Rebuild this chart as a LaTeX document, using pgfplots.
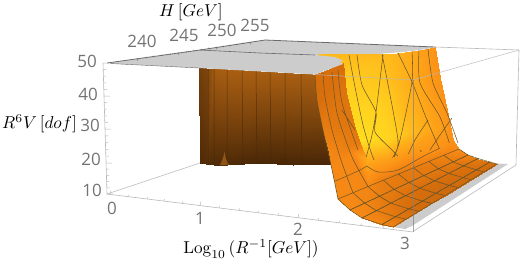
\documentclass[border=0pt]{standalone}
\usepackage{fontspec}
\newfontfamily\tickfont{Open Sans}
\usepackage{pgfplots}
\pgfplotsset{compat=1.18}
\definecolor{capg}{gray}{0.8}
\definecolor{boxl}{gray}{0.72}
\definecolor{capd}{gray}{0.42}
\definecolor{meshl}{RGB}{108,86,40}
\definecolor{wallm}{RGB}{62,38,14}
\definecolor{tick}{gray}{0.45}
\newcommand{\ticklab}[1]{{\tickfont\fontsize{17}{17}\selectfont\color{tick}#1}}
\begin{document}
\begin{tikzpicture}
\begin{axis}[
  scale only axis, width=520pt, height=263pt,
  xmin=0, xmax=520, ymin=0, ymax=263, y dir=reverse,
  hide axis, clip=false, unbounded coords=jump,
  colormap={fire}{rgb255(0cm)=(68,36,6); rgb255(1cm)=(120,66,12); rgb255(2cm)=(170,95,18);
    rgb255(3cm)=(215,110,12); rgb255(4cm)=(250,140,22); rgb255(5cm)=(255,170,25);
    rgb255(6cm)=(255,200,30); rgb255(7cm)=(255,222,32)},
  point meta min=0, point meta max=7,
]
\path (axis cs:0,0) -- (axis cs:520,263);
% box, back edges
\addplot[boxl, line width=0.6pt] coordinates {(435,47) (519,50) (516,165) (413,231.5)};
\addplot[boxl, line width=0.6pt] coordinates {(107,194) (200,163)};
% back part of the cap
\addplot[fill=capg, draw=none] coordinates {(108,63) (200,50) (265,40) (435,47) (427,49) (403,52) (377,54) (350,56) (327,56) (200,60)} -- cycle;
% brown wall
\addplot[surf, shader=interp, mesh/rows=2, mesh/cols=7, point meta=explicit] table[x index=0, y index=1, meta index=2] {
199 68 0.9
206 68.4 1.1
214 68.8 1.9
227 69.4 2.0
260 71.2 2.0
293 72.9 2.0
330 75 2.0
200 163 0.2
206 164 0.3
214 164.5 0.2
227 165 0.2
260 163 0.1
293 165 0.1
330 164 0.1
};
\addplot[fill={rgb,255:red,205;green,125;blue,35}, draw=none, opacity=0.5] coordinates {(220,165) (223,158) (224.5,152) (226,159) (229,165)} -- cycle;
\addplot[wallm, line width=0.5pt, opacity=0.7] table {
208 68.5
208 164
nan nan
214 69
214 164
nan nan
227 69.4
227 165
nan nan
242 70.2
243 164
nan nan
256 71
257 163
nan nan
270 71.7
271 163
nan nan
285 72.5
285 164
nan nan
301 73.3
302 165
};
% yellow back wall
\addplot[surf, shader=interp, mesh/rows=5, mesh/cols=6, point meta=explicit] table[x index=0, y index=1, meta index=2] {
318 54 5.5
388 54 5.5
405 52 5.1
420 50 4.7
430 48 4.4
435 47 4.2
342 80 6.2
380 81 5.9
403 81 5.3
420 80 4.8
432 80 4.4
439.5 78 4.2
347 110 6.7
382 112 6.4
405 112 5.5
425 112 4.9
438 112 4.5
447 110 4.2
358 140 7.0
390 137 6.5
410 133 5.6
430 130 4.9
443 130 4.5
451 130 4.2
367 160 5.0
388 158 4.7
408 154 4.4
428 150 4.3
446 145 4.2
453 140 4.2
};
\addplot[meshl, line width=0.55pt, smooth, tension=0.4] table {
349 55
355 87
363 125
372 155
383.4 180.25
nan nan
357 55
362 85
376 112
375 132
392 150
400 158
413.6 167.75
nan nan
383 55
376 112
372 135
366 158
nan nan
382 54
398 140
392 160
398.5 174
nan nan
398 53
412 82
427 120
440 150
443.9 155.25
nan nan
412 51
412 82
400 140
393 160
nan nan
419 50
420 83
440 117
450 145
nan nan
428 49
433 83
447 113
458 143
nan nan
420 150
428.75 161.5
nan nan
452 118
440 135
430 150
nan nan
428 120
415 140
408 155
};
% grey strip of the floor
\addplot[fill=capg, draw=none] coordinates {(393,227) (405,229) (412,226) (508,164) (497,163.5)} -- cycle;
% floor, from the foot of the wall
\addplot[surf, shader=interp, mesh/rows=2, mesh/cols=9, point meta=explicit] table[x index=0, y index=1, meta index=2] {
331 165 3.9
341 160 3.9
352 152 3.9
367 160 5.0
388 158 4.7
408 154 4.4
428 150 4.3
446 145 4.2
453 140 4.2
338 199 3.9
353 192.75 3.9
368 186.5 3.8
383.4 180.25 3.5
398.5 174 3.4
413.6 167.75 3.4
428.75 161.5 3.5
443.9 155.25 3.7
459 149 4.0
};
% floor
\addplot[surf, shader=faceted interp, faceted color=meshl, line width=0.5pt, mesh/rows=5, mesh/cols=9, point meta=explicit] table[x index=0, y index=1, meta index=2] {
338 199 3.9
353 192.75 3.9
368 186.5 3.8
383.4 180.25 3.5
398.5 174 3.4
413.6 167.75 3.4
428.75 161.5 3.5
443.9 155.25 3.7
459 149 4.0
350 210 3.9
364.75 203.1 3.8
379.5 196.25 3.5
394.25 189.4 3.4
409 182.5 3.3
423.75 175.6 3.3
438.5 168.75 3.3
453.25 161.9 3.4
468 155 3.7
362 218 3.9
376.5 210.6 3.6
391 203.1 3.3
405.5 195.7 3.1
420 188.25 3.0
434.5 180.8 3.0
449 173.4 3.1
463.5 165.9 3.1
478 158.5 3.4
382 224.5 3.8
395.5 216.7 3.3
409 208.9 3.0
422.5 201.1 2.9
436 193.25 2.8
449.5 185.4 2.8
463 177.6 2.9
476.5 169.8 2.9
490 162 3.0
393 227 3.7
406 219.1 3.2
419 211.25 2.9
432 203.4 2.8
445 195.5 2.8
458 187.6 2.8
471 179.75 2.8
484 171.9 2.8
497 164 2.9
};
\addplot[meshl, line width=0.5pt, smooth, tension=0.5] table {
367 166
378 172
398 170
422 157
440 148
nan nan
335 181
347 176
360 170
367 166
};
% fold
\addplot[surf, shader=interp, mesh/rows=5, mesh/cols=4, point meta=explicit] table[x index=0, y index=1, meta index=2] {
315 74 3.0
324 71 3.0
333 67 3.0
343 63 3.0
317 100 3.0
327 98 3.1
337 96 3.2
346 92 3.2
323 130 3.5
333 128 3.4
344 125 3.3
354 125 3.3
329 152 3.8
339 150 3.7
350 146 3.5
360 143 3.4
331 165 3.9
341 160 3.9
352 152 3.9
367 160 5.0
};
\addplot[meshl, line width=0.55pt, smooth, tension=0.4] table {
323 73
325 97
332 130
342 163
353 192.75
nan nan
332 72
337 113
352 157
368 186.5
nan nan
338 70
342 103
358 150
nan nan
342 110
355 130
nan nan
315 74
317 100
323 130
331 165
338 199
};
% front part of the cap
\addplot[fill=capg, draw=none] coordinates {(110,63.5) (199,68) (315,74.5) (343,64) (340,62) (343,60.5) (335,57) (315,55) (260,53) (200,50)} -- cycle;
\addplot[capd, line width=0.8pt] coordinates {(107,63) (200,50) (265,40) (435,47)};
\addplot[capd, line width=0.6pt] coordinates {(200,50) (260,53) (315,55)};
\addplot[capd, line width=0.4pt] coordinates {(110,63.5) (199,68)};
% box, front edges
\addplot[boxl, line width=0.6pt] coordinates {(103,63) (107,194) (413,232)};
\addplot[boxl, line width=0.6pt, opacity=0.8] coordinates {(315,74.5) (413,80) (519,50)};
\addplot[gray, line width=0.5pt, opacity=0.7] coordinates {(413,80) (413,232)};
% tick marks
\addplot[boxl, line width=0.5pt] table {
110 194.4
111 190.4
nan nan
200 205.5
201 201.5
nan nan
298 217.7
299 213.7
nan nan
405 229
406 225
nan nan
128 196.6
128.5 194.6
nan nan
147 199
147.5 197
nan nan
164 201.1
164.5 199.1
nan nan
182 203.3
182.5 201.3
nan nan
219 207.9
219.5 205.9
nan nan
239 210.4
239.5 208.4
nan nan
258 212.7
258.5 210.7
nan nan
278 215.2
278.5 213.2
nan nan
318 220.2
318.5 218.2
nan nan
339 222.8
339.5 220.8
nan nan
361 225.5
361.5 223.5
nan nan
383 228.2
383.5 226.2
nan nan
103 63
109 63
nan nan
104 96
110 96
nan nan
105 129
111 129
nan nan
106 163
112 163
nan nan
107 194
113 194
nan nan
103.2 69.6
106 69.6
nan nan
103.4 76.2
106 76.2
nan nan
103.6 82.8
106 82.8
nan nan
103.8 89.4
107 89.4
nan nan
104.2 102.6
107 102.6
nan nan
104.4 109.2
107 109.2
nan nan
104.6 115.8
107 115.8
nan nan
104.8 122.4
108 122.4
nan nan
105.2 135.8
108 135.8
nan nan
105.4 142.6
108 142.6
nan nan
105.6 149.4
108 149.4
nan nan
105.8 156.2
109 156.2
nan nan
106.2 169.2
109 169.2
nan nan
106.4 175.4
109 175.4
nan nan
106.6 181.6
109 181.6
nan nan
106.8 187.8
110 187.8
};
\addplot[capd, line width=0.4pt] table {
137 58
138 61
nan nan
178 52.1
179 55
nan nan
216 46.6
217 49.5
nan nan
250 41.7
251 44.5
nan nan
145.5 56.9
146 58.5
nan nan
153.5 55.7
154 57.3
nan nan
162 54.4
162.5 56
nan nan
170 53.3
170.5 54.9
nan nan
186 50.9
186.5 52.5
nan nan
193.5 49.8
194 51.4
nan nan
201 48.7
201.5 50.3
nan nan
208.5 47.6
209 49.2
nan nan
223 45.6
223.5 47.2
nan nan
230 44.6
230.5 46.2
nan nan
237 43.6
237.5 45.2
nan nan
243.5 42.6
244 44.2
};
% texts
\node[inner sep=0pt] at (axis cs:87,61) {\ticklab{50}};
\node[inner sep=0pt] at (axis cs:88,94) {\ticklab{40}};
\node[inner sep=0pt] at (axis cs:90,125) {\ticklab{30}};
\node[inner sep=0pt] at (axis cs:91,159) {\ticklab{20}};
\node[inner sep=0pt] at (axis cs:92,190) {\ticklab{10}};
\node[inner sep=0pt] at (axis cs:112,208) {\ticklab{0}};
\node[inner sep=0pt] at (axis cs:200,218) {\ticklab{1}};
\node[inner sep=0pt] at (axis cs:298,229.5) {\ticklab{2}};
\node[inner sep=0pt] at (axis cs:405,243) {\ticklab{3}};
\node[inner sep=0pt] at (axis cs:142,41) {\ticklab{240}};
\node[inner sep=0pt] at (axis cs:184,35) {\ticklab{245}};
\node[inner sep=0pt] at (axis cs:222,30) {\ticklab{250}};
\node[inner sep=0pt] at (axis cs:255,25) {\ticklab{255}};
\node[scale=1.72, inner sep=0pt] at (axis cs:191,12) {$H\,[GeV]$};
\node[scale=1.72, inner sep=0pt] at (axis cs:39.5,124) {$R^6V\,[dof]$};
\node[scale=1.72, inner sep=0pt] at (axis cs:251,249) {$\mathrm{Log}_{10}\,(R^{-1}[GeV])$};
\end{axis}
\end{tikzpicture}
\end{document}
